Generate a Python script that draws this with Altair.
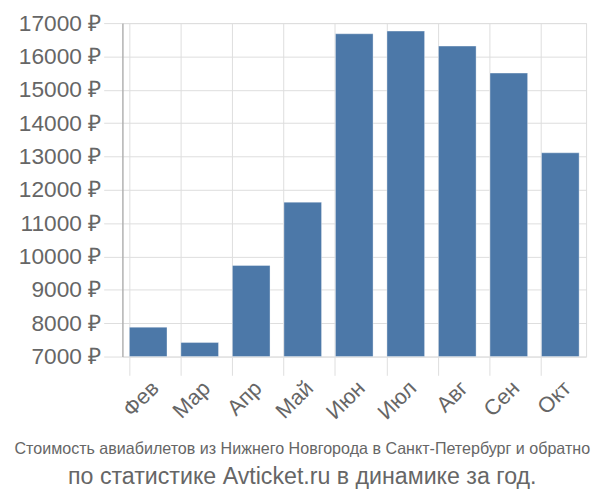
import altair as alt
import pandas as pd

months = ["Фев", "Мар", "Апр", "Май", "Июн", "Июл", "Авг", "Сен", "Окт"]
prices = [7880, 7420, 9730, 11630, 16680, 16760, 16310, 15500, 13110]
y_ticks = [7000, 8000, 9000, 10000, 11000, 12000, 13000, 14000, 15000, 16000, 17000]
base_value = 7000

df = pd.DataFrame({"month": months, "price": prices, "base": [base_value] * len(months)})

chart = alt.Chart(df).mark_bar(
    color="#4c78a8", stroke="#ffffff", strokeOpacity=0.35, strokeWidth=1
).encode(
    x=alt.X("month:N", sort=months, title=None,
            scale=alt.Scale(paddingInner=0.27, paddingOuter=0.135),
            axis=alt.Axis(labelAngle=-45, labelAlign="right", labelBaseline="top",
                          labelFontSize=22, labelColor="#666666", labelFont="Liberation Sans",
                          tickSize=19, tickColor="#dddddd", labelPadding=2,
                          grid=True, gridColor="#dddddd", bandPosition=0,
                          domain=False)),
    y=alt.Y("price:Q", title=None,
            scale=alt.Scale(domain=[7000, 17000], nice=False, zero=False),
            axis=alt.Axis(values=y_ticks, labelExpr="datum.value + ' ₽'",
                          labelFontSize=23, labelColor="#666666", labelFont="Liberation Sans",
                          tickSize=19, tickColor="#dddddd", labelPadding=3,
                          gridColor="#dddddd", domainColor="#999999")),
    y2="base:Q"
).properties(
    width=470, height=338,
    title=alt.TitleParams(
        text="Стоимость авиабилетов из Нижнего Новгорода в Санкт-Петербург и обратно",
        subtitle="по статистике Avticket.ru в динамике за год.",
        orient="bottom", anchor="middle", frame="bounds",
        font="Liberation Sans", fontSize=16.3, fontWeight="normal", color="#666666",
        subtitleFont="Liberation Sans", subtitleFontSize=23.5, subtitleColor="#666666",
        offset=18, subtitlePadding=8
    )
).configure_view(stroke="#dddddd").configure(padding={"left": 6, "right": 1, "top": 1, "bottom": 0})

chart.save("out.html", embed_options={"renderer": "svg", "actions": False})
